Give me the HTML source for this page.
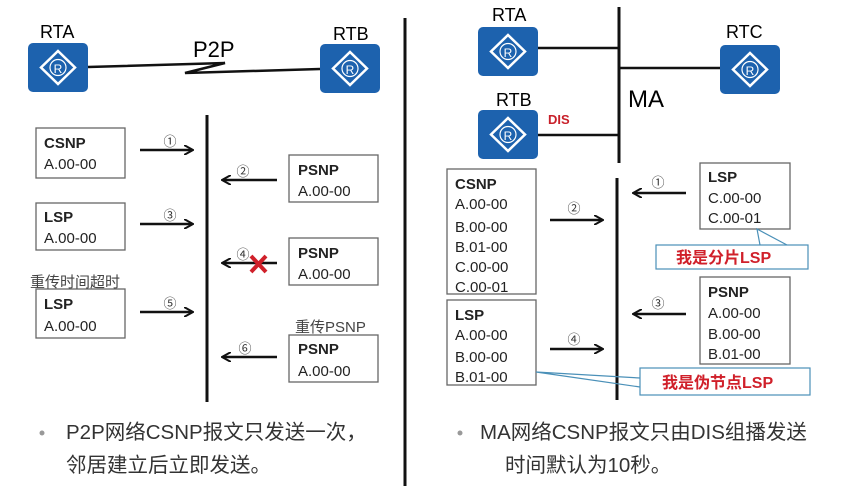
<!DOCTYPE html>
<html><head><meta charset="utf-8"><style>
body{margin:0;background:#fff;}
svg{display:block}
text{font-family:"Liberation Sans","Noto Sans CJK SC",sans-serif;}
</style></head><body>
<svg width="852" height="486" viewBox="0 0 852 486" xmlns="http://www.w3.org/2000/svg">
<defs>
<marker id="ah" markerWidth="10" markerHeight="10" refX="8" refY="5" orient="auto" markerUnits="userSpaceOnUse">
<path d="M0,0 L9,5 L0,10" fill="none" stroke="#111" stroke-width="2"/></marker>
<g id="rt">
<rect x="0" y="0" width="60" height="49" rx="5" fill="#1d62ae"/>
<path d="M30,8 L47,24.5 L30,41 L13,24.5 Z" fill="none" stroke="#fff" stroke-width="2.5"/>
<circle cx="30" cy="24.5" r="8" fill="none" stroke="#fff" stroke-width="1.2"/>
</g>
</defs>
<g fill="#000" font-size="18">
<text x="40" y="38">RTA</text><text x="333" y="40">RTB</text>
<text x="193" y="57" font-size="22">P2P</text>
<text x="492" y="21">RTA</text><text x="726" y="38">RTC</text><text x="496" y="106">RTB</text>
<text x="628" y="107" font-size="24">MA</text>
</g>
<text x="548" y="124" font-size="13" font-weight="bold" fill="#c8202a">DIS</text>
<g><use href="#rt" x="28" y="43"/><text x="58" y="73" font-size="12" fill="#fff" text-anchor="middle">R</text></g>
<g><use href="#rt" x="320" y="44"/><text x="350" y="74" font-size="12" fill="#fff" text-anchor="middle">R</text></g>
<g><use href="#rt" x="478" y="27"/><text x="508" y="57" font-size="12" fill="#fff" text-anchor="middle">R</text></g>
<g><use href="#rt" x="720" y="45"/><text x="750" y="75" font-size="12" fill="#fff" text-anchor="middle">R</text></g>
<g><use href="#rt" x="478" y="110"/><text x="508" y="140" font-size="12" fill="#fff" text-anchor="middle">R</text></g>
<g stroke="#111" stroke-width="2.5" fill="none">
<path d="M88,67 L225,63 L185,73 L320,69"/>
<line x1="405" y1="18" x2="405" y2="486" stroke-width="3"/>
<line x1="207" y1="115" x2="207" y2="402" stroke-width="3"/>
<line x1="619" y1="7" x2="619" y2="163" stroke-width="3"/>
<line x1="538" y1="48" x2="619" y2="48"/>
<line x1="619" y1="68" x2="720" y2="68"/>
<line x1="538" y1="135" x2="619" y2="135"/>
<line x1="617" y1="178" x2="617" y2="400" stroke-width="3"/>
</g>
<g fill="#fff" stroke="#666" stroke-width="1.3">
<rect x="36" y="128" width="89" height="50"/><rect x="36" y="203" width="89" height="47"/>
<rect x="36" y="289" width="89" height="49"/>
<rect x="289" y="155" width="89" height="47"/><rect x="289" y="238" width="89" height="47"/>
<rect x="289" y="335" width="89" height="47"/>
<rect x="447" y="169" width="89" height="125"/><rect x="447" y="300" width="89" height="85"/>
<rect x="700" y="163" width="90" height="66"/><rect x="700" y="277" width="90" height="87"/>
</g>
<g font-size="15" fill="#222">
<text x="44" y="148" font-weight="bold">CSNP</text><text x="44" y="169">A.00-00</text>
<text x="44" y="222" font-weight="bold">LSP</text><text x="44" y="243">A.00-00</text>
<text x="44" y="309" font-weight="bold">LSP</text><text x="44" y="331">A.00-00</text>
<text x="298" y="175" font-weight="bold">PSNP</text><text x="298" y="196">A.00-00</text>
<text x="298" y="258" font-weight="bold">PSNP</text><text x="298" y="279">A.00-00</text>
<text x="298" y="354" font-weight="bold">PSNP</text><text x="298" y="376">A.00-00</text>
<text x="30" y="287" fill="#444">重传时间超时</text>
<text x="295" y="332" fill="#444">重传PSNP</text>
<text x="455" y="189" font-weight="bold">CSNP</text>
<text x="455" y="209">A.00-00</text><text x="455" y="232">B.00-00</text><text x="455" y="252">B.01-00</text>
<text x="455" y="272">C.00-00</text><text x="455" y="292">C.00-01</text>
<text x="455" y="320" font-weight="bold">LSP</text>
<text x="455" y="340">A.00-00</text><text x="455" y="362">B.00-00</text><text x="455" y="382">B.01-00</text>
<text x="708" y="182" font-weight="bold">LSP</text><text x="708" y="203">C.00-00</text><text x="708" y="223">C.00-01</text>
<text x="708" y="297" font-weight="bold">PSNP</text><text x="708" y="318">A.00-00</text><text x="708" y="339">B.00-00</text><text x="708" y="359">B.01-00</text>
</g>
<g stroke="#111" stroke-width="2.5" marker-end="url(#ah)">
<line x1="140" y1="150" x2="192" y2="150"/><line x1="277" y1="180" x2="223" y2="180"/>
<line x1="140" y1="224" x2="192" y2="224"/><line x1="277" y1="263" x2="223" y2="263"/>
<line x1="140" y1="312" x2="192" y2="312"/><line x1="277" y1="357" x2="223" y2="357"/>
<line x1="550" y1="220" x2="602" y2="220"/><line x1="686" y1="193" x2="634" y2="193"/>
<line x1="550" y1="349" x2="602" y2="349"/><line x1="686" y1="314" x2="634" y2="314"/>
</g>
<g font-size="13" fill="#333" text-anchor="middle">
<text x="170" y="146">①</text><text x="243" y="176">②</text><text x="170" y="220">③</text>
<text x="243" y="259">④</text><text x="170" y="308">⑤</text><text x="245" y="353">⑥</text>
<text x="574" y="213">②</text><text x="658" y="187">①</text><text x="574" y="344">④</text><text x="658" y="308">③</text>
</g>
<g stroke="#d0202a" stroke-width="4"><line x1="251" y1="256" x2="266" y2="272"/><line x1="266" y1="256" x2="251" y2="272"/></g>
<g fill="#fff" stroke="#4a90b8" stroke-width="1.2">
<path d="M760,245 L757,229 L787,245" fill="none"/>
<rect x="656" y="245" width="152" height="24"/>
<path d="M536,372 L640,378 M536,372 L640,387" fill="none"/>
<rect x="640" y="368" width="170" height="27"/>
</g>
<g font-size="16" font-weight="bold" fill="#d0202a">
<text x="676" y="263">我是分片LSP</text>
<text x="662" y="388">我是伪节点LSP</text>
</g>
<g font-size="20.5" fill="#333">
<circle cx="42" cy="433" r="2.5" fill="#999"/>
<text x="66" y="439">P2P网络CSNP报文只发送一次，</text>
<text x="66" y="472">邻居建立后立即发送。</text>
<circle cx="460" cy="433" r="2.5" fill="#999"/>
<text x="480" y="439">MA网络CSNP报文只由DIS组播发送</text>
<text x="505" y="472">时间默认为10秒。</text>
</g>
</svg>
</body></html>
